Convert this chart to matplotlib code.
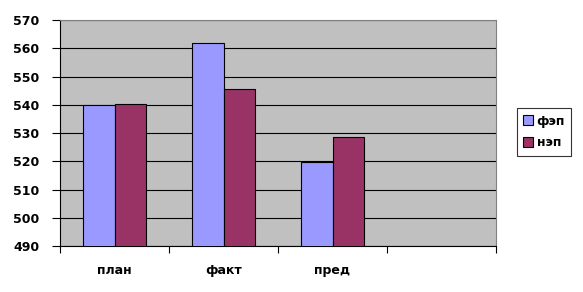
import matplotlib.pyplot as plt
import numpy as np

categories = ['план', 'факт', 'пред', '']
fep = [540, 561.7, 519.8]
nep = [540.4, 545.5, 528.5]
series_names = ['фэп', 'нэп']
yticks = [490, 500, 510, 520, 530, 540, 550, 560, 570]

plt.rcParams['font.family'] = ['DejaVu Sans']

fig = plt.figure(figsize=(5.83, 2.92), dpi=100)
fig.set_facecolor('white')
ax = fig.add_axes([0.1029, 0.1575, 0.748, 0.774])
ax.set_facecolor('#C0C0C0')

x = np.arange(len(fep))
w = 0.29
ax.bar(x - w / 2, fep, w, color='#9999FF', edgecolor='black', linewidth=0.8,
       label=series_names[0], zorder=3)
ax.bar(x + w / 2, nep, w, color='#993366', edgecolor='black', linewidth=0.8,
       label=series_names[1], zorder=3)

ax.set_ylim(490, 570)
ax.set_xlim(-0.5, len(categories) - 0.5)
ax.set_yticks(yticks)
ax.set_yticklabels([str(v) for v in yticks], fontsize=9, fontweight='bold')
ax.yaxis.grid(True, color='black', linewidth=0.8, zorder=1)
ax.set_axisbelow(True)

ax.set_xticks(np.arange(len(categories) + 1) - 0.5)
ax.set_xticklabels([])
ax.set_xticks(np.arange(len(categories)), minor=True)
ax.set_xticklabels(categories, minor=True, fontsize=9, fontweight='bold')
ax.tick_params(axis='x', which='minor', length=0, pad=13)
ax.tick_params(axis='x', which='major', length=5, width=0.8, direction='out')
ax.tick_params(axis='y', length=6, width=0.8, direction='out', pad=9)

for s in ['left', 'bottom']:
    ax.spines[s].set_color('black')
    ax.spines[s].set_linewidth(0.8)
for s in ['top', 'right']:
    ax.spines[s].set_color('#808080')
    ax.spines[s].set_linewidth(0.8)

leg = fig.legend(loc='center', bbox_to_anchor=(0.933, 0.548),
                 prop={'weight': 'bold', 'size': 9}, fancybox=False,
                 edgecolor='black', handlelength=0.8, handleheight=0.8,
                 handletextpad=0.3, borderpad=0.5, labelspacing=0.7)
leg.get_frame().set_linewidth(0.8)

fig.savefig('out.png', dpi=100)
